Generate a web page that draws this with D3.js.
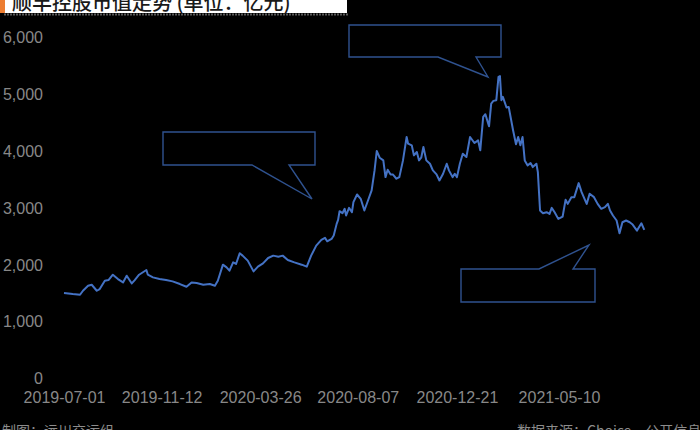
<!DOCTYPE html>
<html>
<head>
<meta charset="utf-8">
<script src="https://cdn.jsdelivr.net/npm/d3@7"></script>
<style>
  html, body { margin: 0; padding: 0; background: #000; }
  svg { display: block; }
</style>
</head>
<body>
<svg id="chart" width="700" height="430"></svg>
<script>
const titleText = "顺丰控股市值走势 (单位：亿元)";
const sourceLeft = "制图：远川交运组";
const sourceRight = "数据来源：Choice、公开信息";

const tickDates = ["2019-07-01","2019-11-12","2020-03-26","2020-08-07","2020-12-21","2021-05-10"];
const yTicks = [0, 1000, 2000, 3000, 4000, 5000, 6000];

const dates = [
"2019-07-01","2019-07-13","2019-07-23","2019-07-27","2019-08-03","2019-08-08","2019-08-15","2019-08-19","2019-08-26","2019-08-31",
"2019-09-06","2019-09-13","2019-09-20","2019-09-25","2019-10-02","2019-10-06","2019-10-12","2019-10-22","2019-10-24","2019-10-31",
"2019-11-09","2019-11-18","2019-11-27","2019-12-07","2019-12-16","2019-12-23","2019-12-30","2020-01-08","2020-01-17","2020-01-24",
"2020-01-28","2020-02-04","2020-02-09","2020-02-13","2020-02-18","2020-02-22","2020-02-27","2020-03-02","2020-03-09","2020-03-17",
"2020-03-23","2020-03-30","2020-04-06","2020-04-13","2020-04-20","2020-04-26","2020-05-03","2020-05-12","2020-05-22","2020-05-29",
"2020-06-04","2020-06-11","2020-06-18","2020-06-23","2020-06-26","2020-07-02","2020-07-05","2020-07-09","2020-07-11","2020-07-13",
"2020-07-17","2020-07-20","2020-07-22","2020-07-26","2020-07-30","2020-08-01","2020-08-06","2020-08-11","2020-08-16","2020-08-21",
"2020-08-26","2020-08-30","2020-09-02","2020-09-06","2020-09-11","2020-09-14","2020-09-17","2020-09-21","2020-09-24","2020-09-29",
"2020-10-03","2020-10-08","2020-10-13","2020-10-15","2020-10-20","2020-10-23","2020-10-27","2020-10-30","2020-11-02","2020-11-05",
"2020-11-09","2020-11-14","2020-11-18","2020-11-23","2020-11-27","2020-12-02","2020-12-07","2020-12-10","2020-12-15","2020-12-18",
"2020-12-21","2020-12-25","2020-12-29","2021-01-03","2021-01-08","2021-01-14","2021-01-19","2021-01-22","2021-01-26","2021-01-29",
"2021-02-03","2021-02-06","2021-02-09","2021-02-13","2021-02-16","2021-02-18","2021-02-20","2021-02-22","2021-02-27","2021-03-02",
"2021-03-08","2021-03-12","2021-03-15","2021-03-18","2021-03-21","2021-03-24","2021-03-28","2021-04-01","2021-04-04","2021-04-09",
"2021-04-11","2021-04-14","2021-04-18","2021-04-23","2021-04-27","2021-04-30","2021-05-04","2021-05-09","2021-05-15","2021-05-19",
"2021-05-22","2021-05-27","2021-05-31","2021-06-06","2021-06-10","2021-06-17","2021-06-21","2021-06-27","2021-07-02","2021-07-07",
"2021-07-12","2021-07-16","2021-07-19","2021-07-23","2021-07-28","2021-08-01","2021-08-05","2021-08-10","2021-08-15","2021-08-19",
"2021-08-25","2021-08-31","2021-09-04"
];

const values = [
1495,1477,1465,1535,1623,1641,1535,1565,1711,1723,
1817,1741,1682,1800,1664,1723,1817,1900,1817,1770,
1741,1723,1700,1653,1606,1682,1670,1641,1653,1623,
1711,1994,1946,1888,2035,2006,2194,2153,2065,1876,
1959,2017,2112,2153,2135,2153,2077,2035,1994,1959,
2153,2330,2430,2465,2405,2447,2506,2712,2783,2935,
2900,2977,2860,2994,2917,3094,3229,3153,2947,3123,
3300,3653,3994,3876,3829,3535,3664,3582,3582,3506,
3535,3829,4241,4123,4094,3917,3976,3829,3876,4064,
3829,3770,3653,3582,3476,3594,3770,3653,3535,3594,
3535,3770,3947,3888,4241,4135,4182,4006,4594,4641,
4429,4829,4876,4888,5300,5312,4888,4947,4759,4770,
4359,4112,4241,4094,4241,3829,3741,3782,3711,3770,
3623,2947,2900,2917,2887,2994,2917,2800,2841,3135,
3064,3182,3182,3429,3270,3064,3241,3182,3064,2977,
3006,3064,2947,2859,2771,2547,2741,2771,2741,2700,
2594,2723,2606
];

// Empty callout shapes (decorations) in pixel space
const callouts = [
  [[163,132],[315,132],[315,165],[289,165],[312,199],[252,165],[163,165]],
  [[349,25],[501,25],[501,57],[476,57],[488,77],[438,57],[349,57]],
  [[461,269],[539,269],[589,245],[573,269],[595,269],[595,302],[461,302]]
];

const parse = d3.timeParse("%Y-%m-%d");
const fmtDate = d3.timeFormat("%Y-%m-%d");
const series = dates.map((d, i) => ({ date: parse(d), value: values[i] }));

const svg = d3.select("#chart");
svg.append("rect").attr("width", 700).attr("height", 430).attr("fill", "#000");

const x = d3.scaleTime()
  .domain([parse(tickDates[0]), parse(tickDates[tickDates.length - 1])])
  .range([64, 559]);
const y = d3.scaleLinear().domain([0, 6000]).range([378, 37]);

// Y axis
const yAxis = d3.axisLeft(y).tickValues(yTicks).tickFormat(d3.format(",")).tickSize(0).tickPadding(0);
const gy = svg.append("g").attr("transform", "translate(43,0)").call(yAxis);
gy.select(".domain").remove();
gy.selectAll("text")
  .attr("fill", "#888")
  .attr("font-family", "'Liberation Sans', Arial, sans-serif")
  .attr("font-size", 16)
  .attr("dy", "0.36em");

// X axis
const xAxis = d3.axisBottom(x).tickValues(tickDates.map(parse)).tickFormat(fmtDate).tickSize(0).tickPadding(0);
const gx = svg.append("g").attr("transform", "translate(0,392)").call(xAxis);
gx.select(".domain").remove();
gx.selectAll("text")
  .attr("fill", "#888")
  .attr("font-family", "'Liberation Sans', Arial, sans-serif")
  .attr("font-size", 16)
  .attr("dy", "0.71em");

// Line
const line = d3.line().x(d => x(d.date)).y(d => y(d.value));
svg.append("path")
  .datum(series)
  .attr("d", line)
  .attr("fill", "none")
  .attr("stroke", "#4472C4")
  .attr("stroke-width", 2)
  .attr("stroke-linejoin", "round");

// Callouts
svg.selectAll("path.callout")
  .data(callouts)
  .enter().append("path")
  .attr("class", "callout")
  .attr("d", d => "M" + d.map(p => p.join(",")).join("L") + "Z")
  .attr("fill", "none")
  .attr("stroke", "#2F528F")
  .attr("stroke-width", 1.4);

// Title box
svg.append("line").attr("x1", 4).attr("x2", 348).attr("y1", 14.5).attr("y2", 14.5)
  .attr("stroke", "#5a5a5a").attr("stroke-width", 2).attr("stroke-dasharray", "2,1");
svg.append("rect").attr("x", 0).attr("y", 0).attr("width", 347).attr("height", 13).attr("fill", "#fff");
svg.append("rect").attr("x", 0).attr("y", 0).attr("width", 5).attr("height", 13).attr("fill", "#ED7D31");
svg.append("text")
  .attr("x", 12).attr("y", 10)
  .attr("font-family", "'Noto Sans CJK SC', sans-serif")
  .attr("font-size", 20)
  .attr("font-weight", 500)
  .attr("fill", "#1a1a1a")
  .text(titleText);

// Footer
svg.append("text")
  .attr("x", 2).attr("y", 436)
  .attr("font-family", "'Noto Sans CJK SC', sans-serif")
  .attr("font-size", 14)
  .attr("fill", "#8c8c8c")
  .text(sourceLeft);
svg.append("text")
  .attr("x", 517).attr("y", 436)
  .attr("font-family", "'Noto Sans CJK SC', sans-serif")
  .attr("font-size", 14)
  .attr("fill", "#8c8c8c")
  .text(sourceRight);
</script>
</body>
</html>
